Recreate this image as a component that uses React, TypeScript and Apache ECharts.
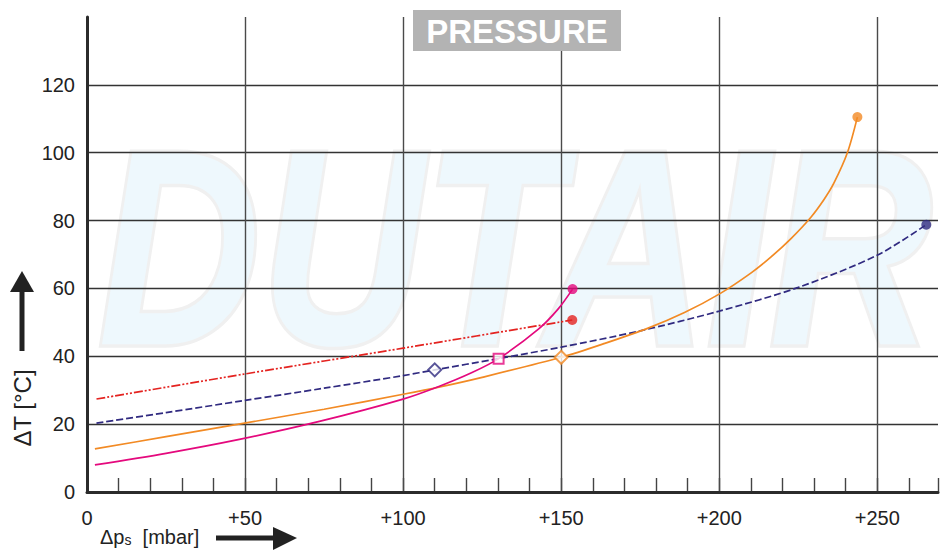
import React, { useEffect, useRef } from "react";
import * as echarts from "echarts";

// Values (x: Δp_s in mbar, y: ΔT in °C)
const xTickLabels = ["0", "+50", "+100", "+150", "+200", "+250"];
const yTickLabels = ["0", "20", "40", "60", "80", "100", "120"];

const redCurve: number[][] = [
  [3, 27.4], [50, 34.8], [100, 42.4], [153.5, 50.7],
];
const navyCurve: number[][] = [
  [3, 20.3], [25, 23.4], [50, 27.0], [75, 30.6], [100, 34.3], [110, 36.0],
  [130, 39.3], [150, 42.7], [175, 47.5], [200, 53.3], [225, 60.3],
  [250, 69.8], [265.5, 78.8],
];
const orangeCurve: number[][] = [
  [2.5, 12.7], [25, 16.3], [48, 20.0], [75, 24.4], [100, 28.8], [111.3, 30.9],
  [125, 33.8], [150, 39.7], [163.8, 43.8], [177.5, 48.3], [189, 52.9],
  [200.1, 58.4], [210.1, 64.6], [216.4, 69.3], [222.7, 74.7], [229, 81.0],
  [233.2, 86.3], [236.3, 91.1], [240.5, 99.9], [243.7, 110.5],
];
const pinkCurve: number[][] = [
  [2.5, 8.0], [25, 11.4], [48.2, 15.5], [73.5, 20.8], [99.7, 27.3],
  [111.3, 31.1], [121.8, 35.2], [130.2, 39.3], [142.8, 48.0], [149, 53.9],
  [153.6, 59.8],
];
const navyMarker: number[][] = [[110, 36.0]];
const pinkMarker: number[][] = [[130.2, 39.3]];
const orangeMarker: number[][] = [[150, 39.7]];

const RED = "#e42320";
const NAVY = "#302a80";
const ORANGE = "#f28a24";
const PINK = "#e4097d";

const FONT = "'Liberation Sans', Arial, sans-serif";

function lineSeries(data: number[][], color: string, type: any) {
  return {
    type: "line",
    data,
    smooth: 0.3,
    showSymbol: false,
    symbol: "none",
    lineStyle: { color, width: 1.7, type },
    z: 5,
  };
}

function endDot(data: number[][], color: string) {
  return {
    type: "scatter",
    data: [data[data.length - 1]],
    symbol: "circle",
    symbolSize: 10,
    itemStyle: { color, borderWidth: 0 },
    z: 6,
  };
}

function openMarker(data: number[][], color: string, symbol: string, size: number) {
  return {
    type: "scatter",
    data,
    symbol,
    symbolSize: size,
    itemStyle: { color: "#ffffff", borderColor: color, borderWidth: 2 },
    z: 7,
  };
}

export default function App() {
  const ref = useRef<HTMLDivElement>(null);
  useEffect(() => {
    if (!ref.current) return;
    const chart = echarts.init(ref.current, null, { renderer: "svg" });
    const diamond = "path://M0,-1L1,0L0,1L-1,0Z";
    chart.setOption({
      animation: false,
      backgroundColor: "#ffffff",
      grid: { left: 87, right: 0, top: 17, bottom: 58, containLabel: false },
      xAxis: [
        {
          type: "value",
          min: 0,
          max: 269.2,
          interval: 50,
          axisLine: { show: true, onZero: false, lineStyle: { color: "#2b2b2b", width: 3 } },
          axisTick: { show: false },
          splitLine: { show: true, showMaxLine: false, lineStyle: { color: "#4a4a4a", width: 1.4 } },
          axisLabel: {
            margin: 16,
            fontFamily: FONT,
            fontSize: 20,
            color: "#222",
            formatter: (v: number) => {
              const i = Math.round(v / 50);
              return Math.abs(v - i * 50) < 1e-6 ? xTickLabels[i] ?? "" : "";
            },
          },
          z: 3,
        },
        {
          type: "value",
          min: 0,
          max: 269.2,
          interval: 10,
          position: "bottom",
          axisLine: { show: false },
          axisTick: { show: true, inside: true, length: 14, lineStyle: { color: "#444", width: 1.4 } },
          axisLabel: { show: false },
          splitLine: { show: false },
        },
      ],
      yAxis: {
        type: "value",
        min: 0,
        max: 140,
        interval: 20,
        axisLine: { show: true, onZero: false, lineStyle: { color: "#2b2b2b", width: 3 } },
        axisTick: { show: false },
        splitLine: { show: true, showMinLine: false, showMaxLine: false, lineStyle: { color: "#333", width: 1.3 } },
        axisLabel: {
          margin: 12,
          fontFamily: FONT,
          fontSize: 20,
          color: "#222",
          formatter: (v: number) => {
            const i = Math.round(v / 20);
            return yTickLabels[i] ?? "";
          },
        },
        z: 3,
      },
      graphic: [
        {
          type: "group",
          x: 515,
          y: 387,
          scaleX: 0.81,
          z: -10,
          silent: true,
          children: [
            {
              type: "text",
              z: -10,
              style: {
                text: "DUTAIR",
                x: 0,
                y: 0,
                align: "center",
                verticalAlign: "bottom",
                font: `italic bold 278px ${FONT}`,
                fill: "#eef8fd",
                stroke: "#f0f0f0",
                lineWidth: 7,
              },
            },
          ],
        },
        {
          type: "rect",
          z: 100,
          shape: { x: 413, y: 10, width: 208, height: 41 },
          style: { fill: "#b3b3b3" },
        },
        {
          type: "text",
          z: 101,
          style: {
            text: "PRESSURE",
            x: 517,
            y: 31,
            align: "center",
            verticalAlign: "middle",
            font: `bold 33px ${FONT}`,
            fill: "#ffffff",
          },
        },
        {
          type: "text",
          z: 100,
          style: {
            text: "{a|Δp}{s|s}{a|  [mbar]}",
            x: 100,
            y: 537,
            align: "left",
            verticalAlign: "middle",
            rich: {
              a: { fontFamily: FONT, fontSize: 20, fill: "#222", lineHeight: 20, verticalAlign: "middle" },
              s: { fontFamily: FONT, fontSize: 14, fill: "#222", lineHeight: 20, verticalAlign: "bottom" },
            },
          },
        },
        {
          type: "line",
          z: 100,
          shape: { x1: 216, y1: 538, x2: 276, y2: 538 },
          style: { stroke: "#222", lineWidth: 5 },
        },
        {
          type: "polygon",
          z: 100,
          shape: { points: [[273, 527], [297, 538], [273, 550]] },
          style: { fill: "#222" },
        },
        {
          type: "text",
          z: 100,
          x: 22,
          y: 408,
          rotation: Math.PI / 2,
          style: {
            text: "ΔT [°C]",
            x: 0,
            y: 0,
            align: "center",
            verticalAlign: "middle",
            font: `24px ${FONT}`,
            fill: "#222",
          },
        },
        {
          type: "line",
          z: 100,
          shape: { x1: 22, y1: 351, x2: 22, y2: 289 },
          style: { stroke: "#222", lineWidth: 5 },
        },
        {
          type: "polygon",
          z: 100,
          shape: { points: [[10, 292], [22, 271], [34, 292]] },
          style: { fill: "#222" },
        },
      ],
      series: [
        lineSeries(redCurve, RED, [9, 2, 2, 2, 2, 2]),
        lineSeries(navyCurve, NAVY, [7, 3]),
        lineSeries(orangeCurve, ORANGE, "solid"),
        lineSeries(pinkCurve, PINK, "solid"),
        endDot(redCurve, RED),
        endDot(navyCurve, NAVY),
        endDot(orangeCurve, ORANGE),
        endDot(pinkCurve, PINK),
        openMarker(navyMarker, NAVY, diamond, 13),
        openMarker(pinkMarker, PINK, "rect", 10),
        openMarker(orangeMarker, ORANGE, diamond, 13),
      ],
    });
    return () => chart.dispose();
  }, []);
  return <div ref={ref} style={{ width: 941, height: 550, position: "absolute", left: 0, top: 0 }} />;
}
